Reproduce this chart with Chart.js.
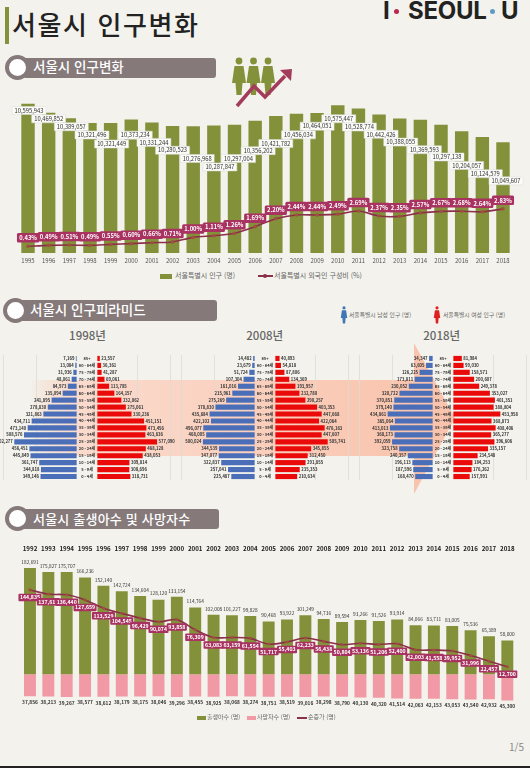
<!DOCTYPE html>
<html lang="ko">
<head>
<meta charset="utf-8">
<title>서울시 인구변화</title>
<script src="https://cdn.jsdelivr.net/npm/chart.js@4/dist/chart.umd.min.js"></script>
<style>
  html, body { margin: 0; padding: 0; }
  body { width: 530px; height: 768px; background: #f3f2ec; position: relative; overflow: hidden;
         font-family: "Noto Sans CJK KR", "Noto Sans", sans-serif; color: #222; }
  canvas, .abs, svg { position: absolute; }
  .abs { white-space: nowrap; line-height: 1; }
  .pillBar { background: #85797a; border-radius: 3px; }
  .ring { border-radius: 50%; background: #fff; border: 4px solid #85797a; box-sizing: border-box; }
  .pillText { color: #fff; font-size: 13.5px; font-weight: 500; }
  .legend { color: #666; }
  .swatch { height: 4px; }
  .ano { color: #666; font-size: 11.5px; font-weight: 500; transform: translateX(-50%); }
  .logo { font-family: "Inter", "Liberation Sans", sans-serif; font-weight: 700; font-size: 24px; color: #222; }
  .dot { border-radius: 50%; width: 5px; height: 5px; }
</style>
</head>
<body>
<div class="abs" style="left:5px;top:7px;width:4px;height:37px;background:#84913b"></div>
<div class="abs" style="left:12px;top:11px;font-size:26px;font-weight:500;letter-spacing:1.6px">서울시 인구변화</div>

<div class="abs logo" style="left:383px;top:-1px">I</div>
<div class="abs dot" style="left:394px;top:9px;background:#b8284f"></div>
<div class="abs logo" style="left:408px;top:-1px;letter-spacing:-0.3px">SEOUL</div>
<div class="abs dot" style="left:490px;top:9px;background:#5d9cc6"></div>
<div class="abs logo" style="left:501px;top:-1px">U</div>

<div class="abs pillBar" style="left:23px;top:58px;width:193px;height:20px"></div>
<div class="abs ring" style="left:5px;top:55px;width:25px;height:25px"></div>
<div class="abs pillText" style="left:33px;top:60px">서울시 인구변화</div>

<svg style="left:225px;top:50px" width="75" height="60" viewBox="225 50 75 60">
  <defs>
    <g id="pessoa">
      <circle cx="0" cy="61" r="3.4"></circle>
      <path d="M-4.5,66 L4.5,66 L7,83 L3.5,83 L2.5,95 L-2.5,95 L-3.5,83 L-7,83 Z"></path>
    </g>
  </defs>
  <use href="#pessoa" x="239" fill="#84913b"></use>
  <use href="#pessoa" x="253.5" fill="#84913b"></use>
  <use href="#pessoa" x="268" fill="#84913b"></use>
  <polyline points="237,106 254,86 265,97 285,76" fill="none" stroke="#a33b5a" stroke-width="3.5"></polyline>
  <polygon points="292,69 280,70 291,81" fill="#a33b5a"></polygon>
</svg>

<svg style="left:0;top:340px" width="530" height="160" viewBox="0 340 530 160">
  <defs>
    <linearGradient id="gradSeta" gradientUnits="userSpaceOnUse" x1="30" y1="0" x2="420" y2="0">
      <stop offset="0" stop-color="#f9c4ad" stop-opacity="0"></stop>
      <stop offset="0.12" stop-color="#fbd8ca" stop-opacity="0.9"></stop>
      <stop offset="1" stop-color="#f9c4ad"></stop>
    </linearGradient>
  </defs>
  <polygon points="30,380 414,380 414,343 455,418 414,494 414,456 30,456" fill="url(#gradSeta)"></polygon>
</svg>

<canvas id="graficoPopulacao" width="530" height="177" style="left:0;top:90px"></canvas>

<div class="abs swatch" style="left:160px;top:274px;width:12px;height:5px;background:#84913b"></div>
<div class="abs legend" style="left:175px;top:272px;font-size:7px">서울특별시 인구 (명)</div>
<div class="abs" style="left:258px;top:275px;width:15px;height:2px;background:#8c2f49"></div>
<div class="abs" style="left:263px;top:274px;width:4px;height:4px;border-radius:50%;background:#8c2f49"></div>
<div class="abs legend" style="left:274px;top:272px;font-size:7px">서울특별시 외국인 구성비 (%)</div>

<div class="abs pillBar" style="left:20px;top:300px;width:197px;height:20.5px"></div>
<div class="abs ring" style="left:3px;top:298px;width:25px;height:25px"></div>
<div class="abs pillText" style="left:30px;top:302.5px">서울시 인구피라미드</div>

<svg style="left:338px;top:306px" width="12" height="18" viewBox="-6 57 12 39"><use href="#pessoa" fill="#3f78b5"></use></svg>
<div class="abs legend" style="left:349px;top:312px;font-size:5.8px">서울특별시 남성 인구 (명)</div>
<svg style="left:431px;top:306px" width="12" height="18" viewBox="-6 57 12 39"><use href="#pessoa" fill="#e02020"></use></svg>
<div class="abs legend" style="left:443px;top:312px;font-size:5.8px">서울특별시 여성 인구 (명)</div>

<div class="abs ano" style="left:87.5px;top:330px">1998년</div>
<div class="abs ano" style="left:264.7px;top:330px">2008년</div>
<div class="abs ano" style="left:441.7px;top:330px">2018년</div>

<canvas id="piramide1998" width="176" height="125" style="left:-1.5px;top:355px"></canvas>
<canvas id="piramide2008" width="176" height="125" style="left:176.7px;top:355px"></canvas>
<canvas id="piramide2018" width="176" height="125" style="left:354.8px;top:355px"></canvas>

<div class="abs pillBar" style="left:22px;top:509px;width:197px;height:20px"></div>
<div class="abs ring" style="left:5px;top:506px;width:25px;height:25px"></div>
<div class="abs pillText" style="left:33px;top:511.5px;font-size:13px;letter-spacing:0.2px">서울시 출생아수 및 사망자수</div>

<canvas id="graficoNascimentos" width="530" height="175" style="left:0;top:540px"></canvas>

<div class="abs swatch" style="left:197px;top:716px;width:9px;height:3.5px;background:#84913b"></div>
<div class="abs legend" style="left:207px;top:714px;font-size:6px">출생아수 (명)</div>
<div class="abs swatch" style="left:247px;top:716px;width:9px;height:3.5px;background:#f19aa5"></div>
<div class="abs legend" style="left:257px;top:714px;font-size:6px">사망자수 (명)</div>
<div class="abs" style="left:297px;top:717px;width:10px;height:1.5px;background:#8c2f49"></div>
<div class="abs legend" style="left:308px;top:714px;font-size:6px">순증가 (명)</div>

<div class="abs" style="left:509px;top:742px;font-size:10px;color:#888">1/5</div>
<div class="abs" style="left:0;top:765.5px;width:530px;height:2.5px;background:#222"></div>

<script>
const anosPopulacao = ['1995','1996','1997','1998','1999','2000','2001','2002','2003','2004','2005','2006','2007','2008','2009','2010','2011','2012','2013','2014','2015','2016','2017','2018'];
const populacao = [10595943,10469852,10389057,10321496,10321449,10373234,10331244,10280523,10276968,10287847,10297004,10356202,10421782,10456034,10464051,10575447,10528774,10442426,10388055,10369593,10297138,10204057,10124579,10049607];
const estrangeiros = [0.43,0.49,0.51,0.49,0.55,0.60,0.66,0.71,1.00,1.11,1.26,1.69,2.20,2.44,2.44,2.49,2.69,2.37,2.35,2.57,2.67,2.68,2.64,2.83];

const idades = ['85+','80 - 84세','75 - 79세','70 - 74세','65 - 69세','60 - 64세','55 - 59세','50 - 54세','45 - 49세','40 - 44세','35 - 39세','30 - 34세','25 - 29세','20 - 24세','15 - 19세','10 - 14세','5 - 9세','0 - 4세'];
const homens1998 = [7169,13084,31936,48061,84973,135094,241895,278830,321863,434711,473140,508576,602277,456451,445849,361747,344818,349146];
const mulheres1998 = [23557,36361,41287,69061,113785,164157,232062,275061,330236,451151,473456,463636,577090,468128,438053,309814,308696,318731];
const homens2008 = [14482,23679,51724,107304,161016,215961,275269,378830,435684,422102,496077,468005,500024,344539,347077,322837,257041,225487];
const mulheres2008 = [40893,54818,87806,134369,193957,232780,290257,403353,447668,422064,476163,447607,505741,345855,312450,291855,235353,210634];
const homens2018 = [34347,63605,126225,173811,230052,320722,370851,379140,434861,365064,413013,368173,392059,323758,240357,196113,187596,168470];
const mulheres2018 = [81984,99030,158571,200607,249378,353027,401351,388804,453958,368873,408406,365277,396606,335157,234548,184253,176262,157991];

const anosNascimentos = ['1992','1993','1994','1995','1996','1997','1998','1999','2000','2001','2002','2003','2004','2005','2006','2007','2008','2009','2010','2011','2012','2013','2014','2015','2016','2017','2018'];
const nascimentos = [182691,175827,175707,166236,152140,142724,134604,128120,133154,114764,102008,101227,99828,90468,93922,101249,94736,89594,93266,91526,93914,84066,83711,83005,75536,65389,58000];
const mortes = [37856,38213,39267,38577,38612,38179,38175,38046,39296,38455,38925,38068,38274,38751,38519,39016,38298,38790,40130,40320,41514,42063,42153,43053,43540,42932,45300];
const saldo = [144835,137615,136440,127659,113529,104545,96429,90074,93858,76309,63083,63159,61554,51717,55403,62233,56438,50804,53136,51206,52400,42003,41558,39952,31996,22457,12700];

// onde cada rotulo branco fica em relacao ao topo da barra
const rotuloDx = [1,0,2,2,1,4,2,0,4,6,4,3,0,2,0,1,1,2,1,4,6,5,3,3];
const rotuloDy = [6.7,6.2,8.4,11.9,20.9,15.7,20,24.3,32.3,41.5,33.8,30,27.5,21.2,13.2,13.5,18.5,19.7,23.7,30,32.2,34.1,36.8,38.7];

const oliva = '#84913b';
const rosa = '#f19aa5';
const vinho = '#8c2f49';
const marcador = '#a0503c';
const caixaVinho = '#a83260';
const fonte = '"Noto Sans CJK KR", "Noto Sans", sans-serif';
const meioVao = 100000;
const limitePiramide = 850000;
const linhasPiramide = [-805000,-485000,485000,805000];

Chart.defaults.animation = false;
Chart.defaults.font.family = fonte;
Chart.defaults.plugins.legend.display = false;
Chart.defaults.plugins.tooltip.enabled = false;

function num(v){
  return v.toLocaleString('en-US');
}

function desenhaRotulo(ctx, texto, x, y, o){
  ctx.font = o.font;
  ctx.textBaseline = 'middle';
  if(o.fill){
    const w = ctx.measureText(texto).width + o.padX * 2;
    ctx.fillStyle = o.fill;
    ctx.beginPath();
    ctx.roundRect(x - w / 2, y - o.h / 2, w, o.h, o.radius || 0);
    ctx.fill();
    if(o.stroke){
      ctx.strokeStyle = o.stroke;
      ctx.lineWidth = 0.5;
      ctx.stroke();
    }
  }
  ctx.fillStyle = o.color;
  ctx.textAlign = o.align || 'center';
  ctx.fillText(texto, x, y);
}

function rotulos(lista){
  return {
    id: 'rotulos',
    afterDatasetsDraw(chart){
      const ctx = chart.ctx;
      ctx.save();
      lista.forEach(function(r){
        chart.getDatasetMeta(r.dataset).data.forEach(function(el, i){
          const p = r.pos(el, i, chart.scales.x);
          desenhaRotulo(ctx, r.texto(i), p.x, p.y, r.estilo);
        });
      });
      ctx.restore();
    }
  };
}

new Chart(document.getElementById('graficoPopulacao'), {
  type: 'bar',
  data: {
    labels: anosPopulacao,
    datasets: [{
      type: 'line',
      data: estrangeiros,
      yAxisID: 'y2',
      borderColor: vinho,
      borderWidth: 1.6,
      tension: 0.3,
      pointRadius: 1.8,
      pointBackgroundColor: marcador,
      pointBorderWidth: 0,
      order: 1
    }, {
      data: populacao,
      backgroundColor: oliva,
      barPercentage: 0.65,
      categoryPercentage: 1,
      order: 2
    }]
  },
  options: {
    responsive: false,
    layout: { padding: { left: 17.7, right: 16.7, top: 0, bottom: 0 } },
    scales: {
      x: {
        grid: { display: false, drawTicks: false },
        border: { display: false },
        ticks: { color: '#555', font: { size: 6 }, padding: 4, maxRotation: 0, autoSkip: false },
        afterFit(scale){ scale.height = 14; }
      },
      y: { display: false, min: 8470000, max: 10736000 },
      y2: { display: false, min: 0, max: 10.19 }
    }
  },
  plugins: [rotulos([
    {
      dataset: 1,
      texto: i => num(populacao[i]),
      pos: (el, i) => ({ x: el.x + rotuloDx[i], y: el.y + rotuloDy[i] }),
      estilo: { font: '5.8px ' + fonte, color: '#333', fill: '#fbfbf8', stroke: '#ddd', padX: 2.5, h: 8 }
    },
    {
      dataset: 0,
      texto: i => estrangeiros[i].toFixed(2) + '%',
      pos: el => ({ x: el.x, y: el.y - 8.5 }),
      estilo: { font: 'bold 5.8px ' + fonte, color: '#fff', fill: caixaVinho, padX: 2.2, h: 9.5, radius: 1.5 }
    }
  ])]
});

function gerarPiramide(id, homens, mulheres){
  const estiloValor = { font: 'bold 4.2px ' + fonte, color: '#333' };
  new Chart(document.getElementById(id), {
    type: 'bar',
    data: {
      labels: idades,
      datasets: [{
        data: homens.map(v => [-meioVao - v, -meioVao]),
        backgroundColor: '#4a6fb8',
        barPercentage: 0.74,
        categoryPercentage: 1,
        grouped: false
      }, {
        data: mulheres.map(v => [meioVao, meioVao + v]),
        backgroundColor: '#ea0a0a',
        barPercentage: 0.74,
        categoryPercentage: 1,
        grouped: false
      }]
    },
    options: {
      responsive: false,
      indexAxis: 'y',
      scales: {
        x: {
          min: -limitePiramide,
          max: limitePiramide,
          grid: { color: '#dcdcd6', lineWidth: 0.8, drawTicks: false },
          border: { display: false },
          ticks: { display: false },
          afterBuildTicks(scale){ scale.ticks = linhasPiramide.map(v => ({ value: v })); }
        },
        y: { display: false }
      }
    },
    plugins: [rotulos([
      {
        dataset: 0,
        texto: i => num(homens[i]),
        pos: (el, i, eixo) => ({ x: eixo.getPixelForValue(-meioVao - homens[i]) - 1.5, y: el.y }),
        estilo: { ...estiloValor, align: 'right' }
      },
      {
        dataset: 1,
        texto: i => num(mulheres[i]),
        pos: (el, i, eixo) => ({ x: eixo.getPixelForValue(meioVao + mulheres[i]) + 1.5, y: el.y }),
        estilo: { ...estiloValor, align: 'left' }
      },
      {
        dataset: 0,
        texto: i => idades[i],
        pos: (el, i, eixo) => ({ x: eixo.getPixelForValue(0), y: el.y }),
        estilo: { font: 'bold 4px ' + fonte, color: '#333' }
      }
    ])]
  });
}

gerarPiramide('piramide1998', homens1998, mulheres1998);
gerarPiramide('piramide2008', homens2008, mulheres2008);
gerarPiramide('piramide2018', homens2018, mulheres2018);

new Chart(document.getElementById('graficoNascimentos'), {
  type: 'bar',
  data: {
    labels: anosNascimentos,
    datasets: [{
      type: 'line',
      data: saldo,
      borderColor: vinho,
      borderWidth: 1.6,
      tension: 0.3,
      pointRadius: 1.6,
      pointBackgroundColor: marcador,
      pointBorderWidth: 0,
      order: 1
    }, {
      data: nascimentos,
      backgroundColor: oliva,
      barPercentage: 0.65,
      categoryPercentage: 1,
      grouped: false,
      order: 2
    }, {
      data: mortes.map(v => -v),
      backgroundColor: rosa,
      barPercentage: 0.65,
      categoryPercentage: 1,
      grouped: false,
      order: 3
    }]
  },
  options: {
    responsive: false,
    layout: { padding: { left: 20.8, right: 13.5, top: 0, bottom: 0 } },
    scales: {
      x: {
        position: 'top',
        grid: { display: false, drawTicks: false },
        border: { display: false },
        ticks: { color: '#222', font: { size: 6.2, weight: 'bold' }, padding: 3, maxRotation: 0, autoSkip: false },
        afterFit(scale){ scale.height = 15.5; }
      },
      y: { display: false, min: -63200, max: 204000 }
    }
  },
  plugins: [rotulos([
    {
      dataset: 1,
      texto: i => num(nascimentos[i]),
      pos: el => ({ x: el.x, y: el.y - 6 }),
      estilo: { font: '4.8px ' + fonte, color: '#333' }
    },
    {
      dataset: 2,
      texto: i => num(mortes[i]),
      pos: el => ({ x: el.x, y: el.y + 6 }),
      estilo: { font: 'bold 4.8px ' + fonte, color: '#333' }
    },
    {
      dataset: 0,
      texto: i => num(saldo[i]),
      pos: el => ({ x: el.x, y: el.y + 7.5 }),
      estilo: { font: 'bold 5.2px ' + fonte, color: '#fff', fill: caixaVinho, padX: 1.5, h: 7.5, radius: 1 }
    }
  ])]
});
</script>
</body>
</html>
